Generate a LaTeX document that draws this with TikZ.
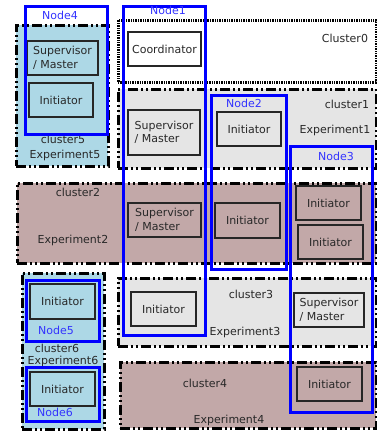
\documentclass[tikz,border=0pt]{standalone}
\usepackage{fontspec}
\setmainfont{DejaVu Sans}
\definecolor{lblue}{RGB}{173,216,230}
\definecolor{lgray}{RGB}{229,229,229}
\definecolor{rosy}{RGB}{194,168,168}
\definecolor{txt}{RGB}{40,40,40}
\begin{document}
\begin{tikzpicture}[x=1pt,y=-1pt,
  every node/.style={inner sep=0pt,outer sep=0pt,font=\fontsize{11}{13.5}\selectfont,text=txt},
  cluster/.style={draw=black,line width=3pt,dash pattern=on 10pt off 3pt on 2pt off 3pt on 2pt off 3pt},
  dotcluster/.style={draw=black,line width=3pt,dash pattern=on 1.4pt off 1pt},
  proc/.style={draw=black!85,line width=1.4pt},
  grp/.style={draw=blue,line width=3pt},
  grplabel/.style={text=blue!80!white},
  lab/.style={}]
\useasboundingbox (0,0) rectangle (377,432);

% clusters
\node[cluster,fill=lblue,minimum width=92,minimum height=141] (c5) at (62,95.5) {};
\node[dotcluster,fill=white,minimum width=258,minimum height=62] (c0) at (247,51) {};
\node[cluster,fill=lgray,minimum width=258,minimum height=79] (c1) at (247,128.5) {};
\node[cluster,fill=rosy,minimum width=359,minimum height=80] (c2) at (196.5,223) {};
\node[cluster,fill=lblue,minimum width=82,minimum height=156] (c6) at (63,351) {};
\node[cluster,fill=lgray,minimum width=258,minimum height=68] (c3) at (247,312) {};
\node[cluster,fill=rosy,minimum width=256,minimum height=66] (c4) at (248,395) {};

% cluster captions
\node[lab] (t5a) at (63,139) {cluster5};
\node[lab] (t5b) at (65,155) {Experiment5};
\node[lab] (t0) at (345,38) {Cluster0};
\node[lab] (t1a) at (347,104) {cluster1};
\node[lab] (t1b) at (335,130) {Experiment1};
\node[lab] (t2a) at (78,192) {cluster2};
\node[lab] (t2b) at (73,240) {Experiment2};
\node[lab] (t6a) at (57,348.5) {cluster6};
\node[lab] (t6b) at (63,361) {Experiment6};
\node[lab] (t3a) at (251,294) {cluster3};
\node[lab] (t3b) at (245,332) {Experiment3};
\node[lab] (t4a) at (205,383) {cluster4};
\node[lab] (t4b) at (229,420) {Experiment4};

% processes
\node[proc,fill=lblue,minimum width=71,minimum height=34] (sm5) at (62.5,58) {};
\node[align=left] (sm5t) at (sm5) {Supervisor\\/ Master};
\node[proc,fill=lblue,minimum width=64,minimum height=34] (in5) at (61,100) {Initiator};
\node[proc,fill=white,minimum width=73,minimum height=34] (co) at (164.5,49) {Coordinator};
\node[proc,fill=lgray,minimum width=72,minimum height=45] (sm1) at (164,132.5) {};
\node[align=left] (sm1t) at (sm1) {Supervisor\\/ Master};
\node[proc,fill=lgray,minimum width=64,minimum height=34] (in1) at (249,129) {Initiator};
\node[proc,fill=rosy,minimum width=73,minimum height=34] (sm2) at (164.5,220) {};
\node[align=left] (sm2t) at (sm2) {Supervisor\\/ Master};
\node[proc,fill=rosy,minimum width=65,minimum height=35] (in2a) at (247.5,220.5) {Initiator};
\node[proc,fill=rosy,minimum width=65,minimum height=34] (in2b) at (328.5,203) {Initiator};
\node[proc,fill=rosy,minimum width=65,minimum height=34] (in2c) at (330.5,242) {Initiator};
\node[proc,fill=lblue,minimum width=65,minimum height=35] (in6a) at (62.5,301.5) {Initiator};
\node[proc,fill=lblue,minimum width=65,minimum height=34] (in6b) at (62.5,389) {Initiator};
\node[proc,fill=lgray,minimum width=65,minimum height=34] (in3) at (163.5,309) {Initiator};
\node[proc,fill=lgray,minimum width=70,minimum height=34] (sm3) at (329,310) {};
\node[align=left] (sm3t) at (sm3) {Supervisor\\/ Master};
\node[proc,fill=rosy,minimum width=65,minimum height=34] (in4) at (329.5,384) {Initiator};

% node groupings
\node[grp,minimum width=82,minimum height=128] (n4) at (66,70) {};
\node[grp,minimum width=82,minimum height=329] (n1) at (164,170.5) {};
\node[grp,minimum width=75,minimum height=174] (n2) at (248.5,182) {};
\node[grp,minimum width=82,minimum height=266] (n3) at (331,279) {};
\node[grp,minimum width=73,minimum height=61] (n5) at (62.5,310.5) {};
\node[grp,minimum width=73,minimum height=54] (n6) at (62.5,394) {};

\node[grplabel] (n4t) at (60,15) {Node4};
\node[grplabel] (n1t) at (168,10) {Node1};
\node[grplabel] (n2t) at (244,103) {Node2};
\node[grplabel] (n3t) at (336,156) {Node3};
\node[grplabel] (n5t) at (56,330) {Node5};
\node[grplabel] (n6t) at (55,412) {Node6};
\end{tikzpicture}
\end{document}
